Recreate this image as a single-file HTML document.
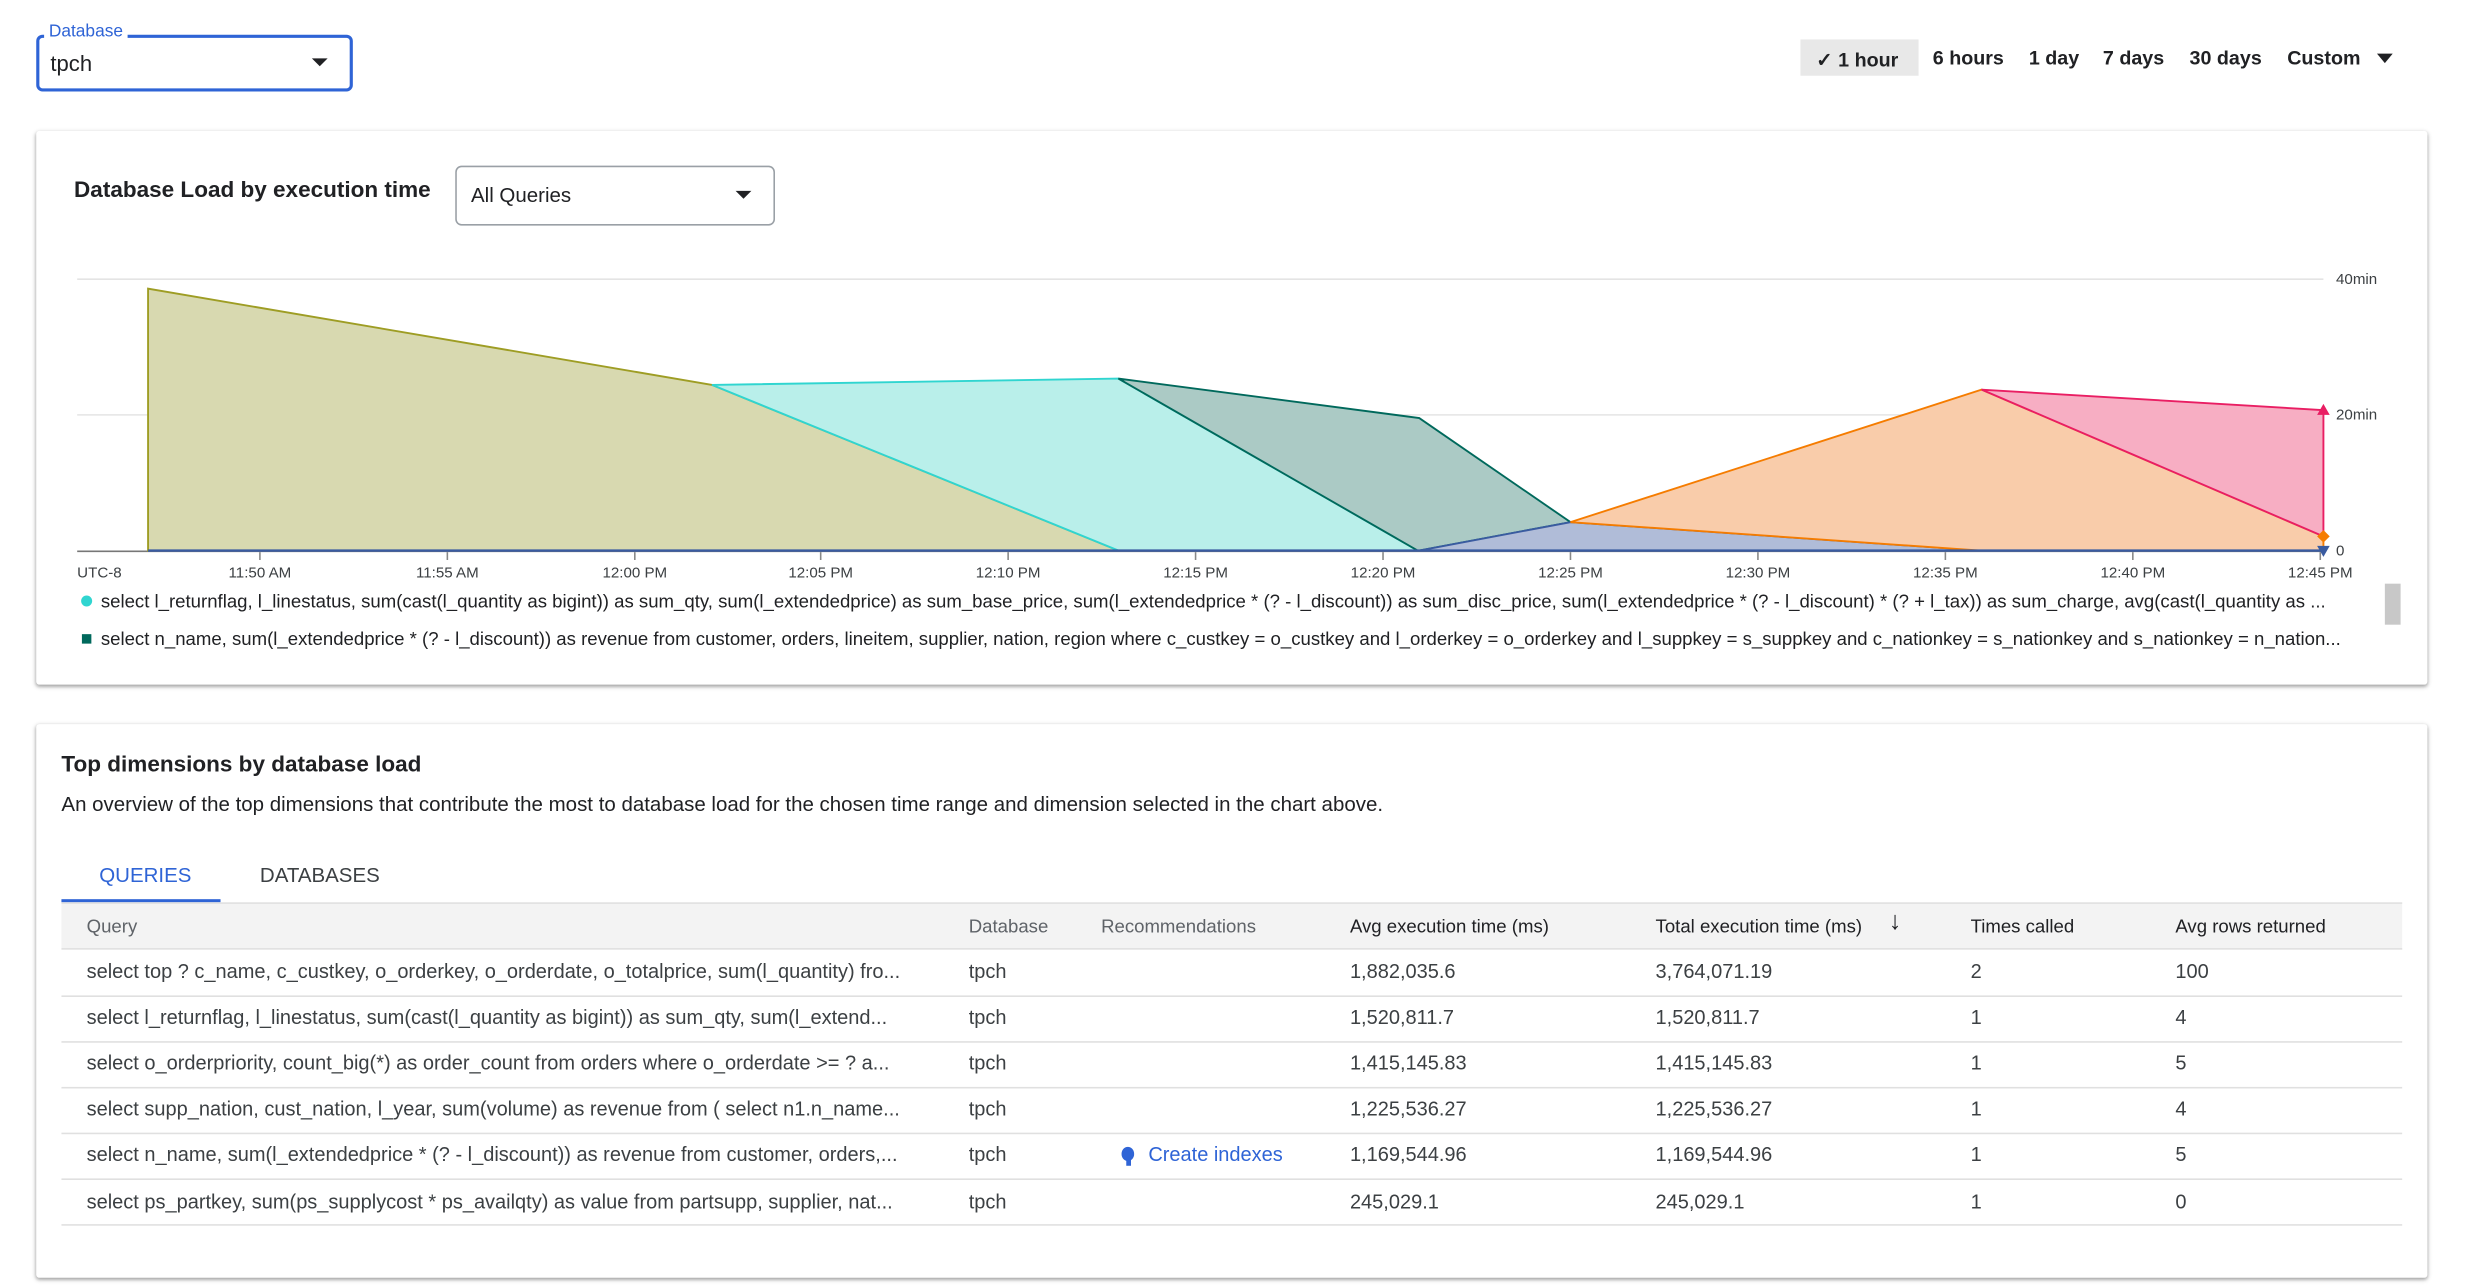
<!DOCTYPE html>
<html><head><meta charset="utf-8"><style>
html,body{margin:0;padding:0;background:#fff;overflow:hidden;width:2470px;height:1288px}
#w{position:absolute;left:0;top:0;width:1560px;height:814px;transform:scale(1.5752,1.5775);transform-origin:0 0;font-family:"Liberation Sans",Arial,sans-serif;color:#202124}
.a{position:absolute;white-space:nowrap}
.card{position:absolute;background:#fff;box-shadow:0 1px 3px rgba(0,0,0,.3),0 1px 2px rgba(0,0,0,.15);border-radius:2px}
.t{font-size:12.5px;font-weight:bold;color:#202124;top:30px}
.h{font-size:11.8px;color:#5f6368;top:580px}
.r{font-size:12.7px;color:#3c4043}
.ln{position:absolute;left:39px;width:1486px;height:1px;background:#e0e0e0}
</style></head><body><div id="w">
<div class="a" style="left:23px;top:22px;width:197px;height:32px;border:2px solid #2f64d6;border-radius:4px"></div>
<div class="a" style="left:28px;top:14px;background:#fff;padding:0 3px;font-size:11px;color:#2f64d6">Database</div>
<div class="a" style="left:32px;top:32px;font-size:14px">tpch</div>
<div class="a" style="left:198px;top:37px;width:0;height:0;border-left:5px solid transparent;border-right:5px solid transparent;border-top:5px solid #202124"></div>

<div class="a" style="left:1143px;top:25px;width:75px;height:23px;background:#e8e8e8"></div>
<div class="a t" style="left:1153px">✓ 1 hour</div>
<div class="a t" style="left:1227px">6 hours</div>
<div class="a t" style="left:1288px">1 day</div>
<div class="a t" style="left:1335px">7 days</div>
<div class="a t" style="left:1390px">30 days</div>
<div class="a t" style="left:1452px">Custom</div>
<div class="a" style="left:1509px;top:34px;border-left:5px solid transparent;border-right:5px solid transparent;border-top:6px solid #202124"></div>

<div class="card" style="left:23px;top:83px;width:1518px;height:351px"></div>
<div class="a" style="left:47px;top:113px;font-size:14.3px;font-weight:bold">Database Load by execution time</div>
<div class="a" style="left:289px;top:105px;width:201px;height:36px;border:1px solid #9aa0a6;border-radius:4px"></div>
<div class="a" style="left:299px;top:116px;font-size:13px">All Queries</div>
<div class="a" style="left:467px;top:121px;border-left:5px solid transparent;border-right:5px solid transparent;border-top:5px solid #202124"></div>

<svg class="a" style="left:0;top:0" width="1560" height="440" font-family="Liberation Sans, Arial, sans-serif">
<line x1="49" y1="177" x2="1475" y2="177" stroke="#e4e4e4"/>
<line x1="49" y1="263" x2="1475" y2="263" stroke="#e4e4e4"/>
<line x1="49" y1="349.5" x2="1475" y2="349.5" stroke="#777"/>
<polygon points="94,349 94,183 452,244 710,349" fill="#d8d9b0" stroke="#9e9d24" stroke-width="1.2"/>
<polygon points="452,244 710,240 900,349 710,349" fill="#b9efea" stroke="#30d5d0" stroke-width="1.2"/>
<polygon points="710,240 901,265 997,331 901,349 900,349" fill="#abcac5" stroke="#00695c" stroke-width="1.2"/>
<polygon points="901,349 997,331 1257,349" fill="#b0bcd8" stroke="#3a5ba0" stroke-width="1.2"/>
<polygon points="997,331 1258,247 1475,340 1475,349 1257,349" fill="#f9ccaa" stroke="#f57c00" stroke-width="1.2"/>
<polygon points="1258,247 1475,260 1475,340" fill="#f7aec3" stroke="#e91e63" stroke-width="1.2"/>
<line x1="94" y1="349" x2="1475" y2="349" stroke="#3a5ba0" stroke-width="1.5"/>
<polygon points="1475,256 1471,263 1479,263" fill="#e91e63"/>
<polygon points="1475,336 1479,340 1475,344 1471,340" fill="#f57c00"/>
<polygon points="1471,346 1479,346 1475,353" fill="#3a5ba0"/>
<g font-size="9.6" fill="#3c4043">
<text x="1483" y="180">40min</text><text x="1483" y="266">20min</text><text x="1483" y="352">0</text>
<text x="49" y="366">UTC-8</text>
<g text-anchor="middle"><text x="165" y="366">11:50 AM</text><text x="284" y="366">11:55 AM</text><text x="403" y="366">12:00 PM</text><text x="521" y="366">12:05 PM</text><text x="640" y="366">12:10 PM</text><text x="759" y="366">12:15 PM</text><text x="878" y="366">12:20 PM</text><text x="997" y="366">12:25 PM</text><text x="1116" y="366">12:30 PM</text><text x="1235" y="366">12:35 PM</text><text x="1354" y="366">12:40 PM</text><text x="1473" y="366">12:45 PM</text></g>
</g>
<g stroke="#888"><line x1="165" y1="350" x2="165" y2="355"/><line x1="284" y1="350" x2="284" y2="355"/><line x1="403" y1="350" x2="403" y2="355"/><line x1="521" y1="350" x2="521" y2="355"/><line x1="640" y1="350" x2="640" y2="355"/><line x1="759" y1="350" x2="759" y2="355"/><line x1="878" y1="350" x2="878" y2="355"/><line x1="997" y1="350" x2="997" y2="355"/><line x1="1116" y1="350" x2="1116" y2="355"/><line x1="1235" y1="350" x2="1235" y2="355"/><line x1="1354" y1="350" x2="1354" y2="355"/><line x1="1473" y1="350" x2="1473" y2="355"/></g>
<circle cx="55" cy="381" r="3.5" fill="#30d5d0"/>
<rect x="52" y="402" width="6" height="6" fill="#00695c"/>
<rect x="1514" y="370" width="10" height="26" fill="#c8c8c8"/>
</svg>
<div class="a" style="left:64px;top:374px;font-size:11.8px;width:1440px;overflow:hidden">select l_returnflag, l_linestatus, sum(cast(l_quantity as bigint)) as sum_qty, sum(l_extendedprice) as sum_base_price, sum(l_extendedprice * (? - l_discount)) as sum_disc_price, sum(l_extendedprice * (? - l_discount) * (? + l_tax)) as sum_charge, avg(cast(l_quantity as ...</div>
<div class="a" style="left:64px;top:398px;font-size:11.8px;width:1436px;overflow:hidden">select n_name, sum(l_extendedprice * (? - l_discount)) as revenue from customer, orders, lineitem, supplier, nation, region where c_custkey = o_custkey and l_orderkey = o_orderkey and l_suppkey = s_suppkey and c_nationkey = s_nationkey and s_nationkey = n_nation...</div>

<div class="card" style="left:23px;top:459px;width:1518px;height:351px"></div>
<div class="a" style="left:39px;top:477px;font-size:14.3px;font-weight:bold">Top dimensions by database load</div>
<div class="a" style="left:39px;top:502px;font-size:13px">An overview of the top dimensions that contribute the most to database load for the chosen time range and dimension selected in the chart above.</div>
<div class="a" style="left:63px;top:547px;font-size:13px;color:#2f64d6">QUERIES</div>
<div class="a" style="left:165px;top:547px;font-size:13px;color:#3c4043">DATABASES</div>
<div class="a" style="left:39px;top:570px;width:101px;height:2px;background:#2f64d6"></div>
<div class="a" style="left:39px;top:572px;width:1486px;height:29px;background:#f3f3f3;border-top:1px solid #e0e0e0"></div>
<div class="a h" style="left:55px">Query</div>
<div class="a h" style="left:615px">Database</div>
<div class="a h" style="left:699px">Recommendations</div>
<div class="a h" style="left:857px;color:#202124">Avg execution time (ms)</div>
<div class="a h" style="left:1051px;color:#202124">Total execution time (ms)</div>
<div class="a" style="left:1199px;top:576px;font-size:16px;font-weight:bold">↓</div>
<div class="a h" style="left:1251px;color:#202124">Times called</div>
<div class="a h" style="left:1381px;color:#202124">Avg rows returned</div>

<div class="ln" style="top:601px"></div><div class="ln" style="top:631px"></div><div class="ln" style="top:660px"></div><div class="ln" style="top:689px"></div><div class="ln" style="top:718px"></div><div class="ln" style="top:747px"></div><div class="ln" style="top:776px"></div>

<div class="a r" style="left:55px;top:609px">select top ? c_name, c_custkey, o_orderkey, o_orderdate, o_totalprice, sum(l_quantity) fro...</div>
<div class="a r" style="left:55px;top:638px">select l_returnflag, l_linestatus, sum(cast(l_quantity as bigint)) as sum_qty, sum(l_extend...</div>
<div class="a r" style="left:55px;top:667px">select o_orderpriority, count_big(*) as order_count from orders where o_orderdate &gt;= ? a...</div>
<div class="a r" style="left:55px;top:696px">select supp_nation, cust_nation, l_year, sum(volume) as revenue from ( select n1.n_name...</div>
<div class="a r" style="left:55px;top:725px">select n_name, sum(l_extendedprice * (? - l_discount)) as revenue from customer, orders,...</div>
<div class="a r" style="left:55px;top:755px">select ps_partkey, sum(ps_supplycost * ps_availqty) as value from partsupp, supplier, nat...</div>
<div class="a r" style="left:615px;top:609px">tpch</div><div class="a r" style="left:615px;top:638px">tpch</div><div class="a r" style="left:615px;top:667px">tpch</div><div class="a r" style="left:615px;top:696px">tpch</div><div class="a r" style="left:615px;top:725px">tpch</div><div class="a r" style="left:615px;top:755px">tpch</div>
<div class="a" style="left:712px;top:727px;width:8px;height:9px;border-radius:50%;background:#2f64d6"></div>
<div class="a" style="left:714.5px;top:735px;width:3px;height:4px;background:#2f64d6"></div>
<div class="a r" style="left:729px;top:725px;color:#2f64d6">Create indexes</div>
<div class="a r" style="left:857px;top:609px">1,882,035.6</div><div class="a r" style="left:857px;top:638px">1,520,811.7</div><div class="a r" style="left:857px;top:667px">1,415,145.83</div><div class="a r" style="left:857px;top:696px">1,225,536.27</div><div class="a r" style="left:857px;top:725px">1,169,544.96</div><div class="a r" style="left:857px;top:755px">245,029.1</div>
<div class="a r" style="left:1051px;top:609px">3,764,071.19</div><div class="a r" style="left:1051px;top:638px">1,520,811.7</div><div class="a r" style="left:1051px;top:667px">1,415,145.83</div><div class="a r" style="left:1051px;top:696px">1,225,536.27</div><div class="a r" style="left:1051px;top:725px">1,169,544.96</div><div class="a r" style="left:1051px;top:755px">245,029.1</div>
<div class="a r" style="left:1251px;top:609px">2</div><div class="a r" style="left:1251px;top:638px">1</div><div class="a r" style="left:1251px;top:667px">1</div><div class="a r" style="left:1251px;top:696px">1</div><div class="a r" style="left:1251px;top:725px">1</div><div class="a r" style="left:1251px;top:755px">1</div>
<div class="a r" style="left:1381px;top:609px">100</div><div class="a r" style="left:1381px;top:638px">4</div><div class="a r" style="left:1381px;top:667px">5</div><div class="a r" style="left:1381px;top:696px">4</div><div class="a r" style="left:1381px;top:725px">5</div><div class="a r" style="left:1381px;top:755px">0</div>
</div></body></html>
